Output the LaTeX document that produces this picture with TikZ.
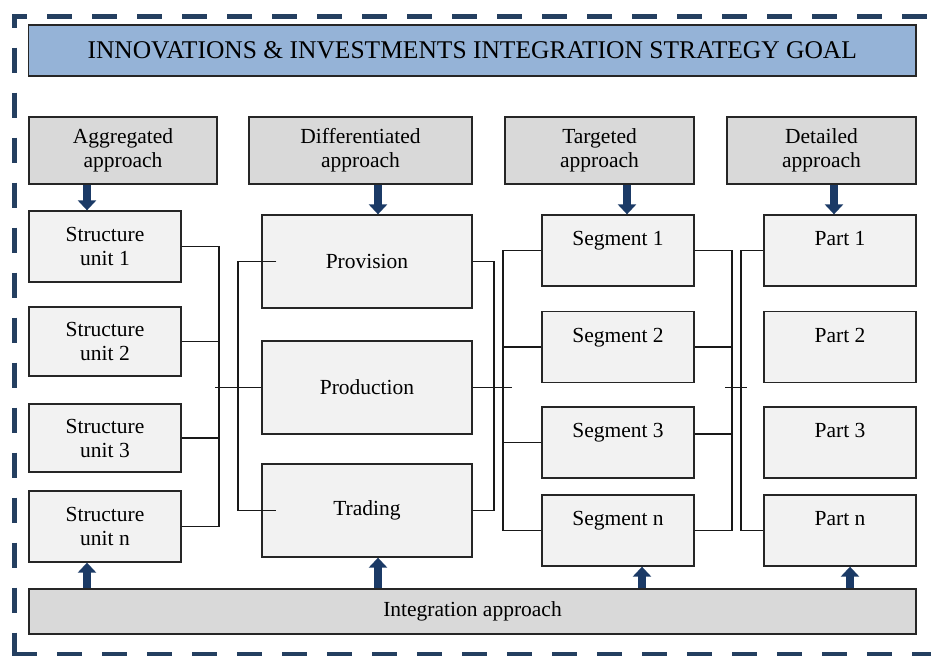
\documentclass[tikz,border=0pt]{standalone}
\usepackage{fontspec}
\setmainfont{Liberation Serif}
\usetikzlibrary{positioning,arrows.meta,calc}
\definecolor{framenavy}{HTML}{243F60}
\definecolor{goalblue}{HTML}{95B3D7}
\definecolor{approachgray}{HTML}{D9D9D9}
\definecolor{unitgray}{HTML}{F2F2F2}
\definecolor{arrownavy}{HTML}{1B3A66}

\begin{document}
\begin{tikzpicture}[x=1pt,y=-1pt,
	every node/.style={font=\fontsize{21.5}{24}\selectfont, inner sep=0pt, align=center},
	plainbox/.style={shape=rectangle, draw=black!85, line width=1.3pt, fill=unitgray},
	approachbox/.style={plainbox, fill=approachgray, minimum width=189pt, minimum height=67pt},
	unitbox/.style={plainbox, minimum width=152pt, minimum height=71pt},
	stagebox/.style={plainbox, minimum width=210pt, minimum height=93pt},
	link/.style={line width=1.3pt, black!90},
	blockarrow/.style={-{Triangle[width=18pt,length=10pt]}, line width=8.5pt, arrownavy},
	framedash/.style={line width=4.5pt, framenavy, dash pattern=on 25pt off 20pt}]
	\useasboundingbox (0,0) rectangle (931,657);

	\coordinate (frameNW) at (14.5,16.5);
	\coordinate (frameSW) at (14.5,654);
	\coordinate (frameNE) at (931,16.5);
	\coordinate (frameSE) at (931,654);
	\draw [framedash, dash phase=14pt] (frameNW) -- (frameSW);
	\draw [framedash, dash phase=10pt] ([xshift=-2.25pt]frameNW) -- (frameNE);
	\draw [framedash] ([xshift=-2.25pt]frameSW) -- (frameSE);

	\node (goal) at (472.25,50.5) [plainbox, fill=goalblue, minimum width=887.5pt, minimum height=51pt, font=\fontsize{25.5}{28}\selectfont] {INNOVATIONS \& INVESTMENTS INTEGRATION STRATEGY GOAL};

	\node (aggregated) at (123,150.5) [approachbox, minimum width=188pt] {Aggregated\\approach};
	\node (differentiated) at (360.5,150.5) [approachbox, minimum width=223pt] {Differentiated\\approach};
	\node (targeted) at (599.5,150.5) [approachbox] {Targeted\\approach};
	\node (detailed) at (821.5,150.5) [approachbox] {Detailed\\approach};

	\node (unit1) at (105,246.5) [unitbox] {Structure\\unit 1};
	\node (unit2) at (105,341.5) [unitbox, minimum height=69pt] {Structure\\unit 2};
	\node (unit3) at (105,438) [unitbox, minimum height=68pt] {Structure\\unit 3};
	\node (unitn) at (105,526.5) [unitbox] {Structure\\unit n};

	\node (provision) at (367,261.5) [stagebox] {Provision};
	\node (production) at (367,387.5) [stagebox] {Production};
	\node (trading) at (367,510.5) [stagebox] {Trading};

	\node (segment1) at (618,250.5) [unitbox] {Segment 1\\\phantom{1}};
	\node (segment2) at (618,347) [unitbox] {Segment 2\\\phantom{2}};
	\node (segment3) at (618,442.5) [unitbox] {Segment 3\\\phantom{3}};
	\node (segmentn) at (618,530.5) [unitbox] {Segment n\\\phantom{n}};

	\node (part1) at (840,250.5) [unitbox] {Part 1\\\phantom{1}};
	\node (part2) at (840,347) [unitbox] {Part 2\\\phantom{2}};
	\node (part3) at (840,442.5) [unitbox] {Part 3\\\phantom{3}};
	\node (partn) at (840,530.5) [unitbox] {Part n\\\phantom{n}};

	\node (integration) at (472.5,611.5) [plainbox, fill=approachgray, minimum width=887pt, minimum height=45pt] {Integration approach};

	\coordinate (busA) at (219,0);
	\coordinate (busB) at (238,0);
	\coordinate (busC) at (494,0);
	\coordinate (busD) at (503,0);
	\coordinate (busE) at (732,0);
	\coordinate (busF) at (741,0);
	\coordinate (crossL) at (215,0);
	\coordinate (crossM) at (512,0);
	\coordinate (crossR) at (725,387.5);
	\coordinate (crossS) at (747,387.5);

	\draw [link] (unit1.east) -| (busA |- unitn.east) -- (unitn.east);
	\draw [link] (unit2.east) -- (unit2.east -| busA);
	\draw [link] (unit3.east) -- (unit3.east -| busA);
	\draw [link] (production.west -| crossL) -- (production.west);

	\draw [link] ([xshift=15pt]provision.west) -- (provision.west -| busB) -- (trading.west -| busB) -- ([xshift=15pt]trading.west);
	\draw [link] (provision.east) -- (provision.east -| busC) -- (trading.east -| busC) -- (trading.east);
	\draw [link] (production.east) -- (production.east -| crossM);

	\draw [link] (segment1.west) -- (segment1.west -| busD) -- (segmentn.west -| busD) -- (segmentn.west);
	\draw [link] (segment2.west) -- (segment2.west -| busD);
	\draw [link] (segment3.west) -- (segment3.west -| busD);
	\draw [link] (segment1.east) -- (segment1.east -| busE) -- (segmentn.east -| busE) -- (segmentn.east);
	\draw [link] (segment2.east) -- (segment2.east -| busE);
	\draw [link] ([yshift=8.5pt]segment3.east) -- ([yshift=8.5pt]segment3.east -| busE);
	\draw [link] (crossR) -- (crossS);

	\draw [link] (part1.west) -- (part1.west -| busF) -- (partn.west -| busF) -- (partn.west);

	\draw [blockarrow] ([xshift=-36pt]aggregated.south) -- ([xshift=-36pt]aggregated.south |- unit1.north);
	\draw [blockarrow] ([xshift=17.5pt]differentiated.south) -- ([xshift=17.5pt]differentiated.south |- provision.north);
	\draw [blockarrow] ([xshift=27.5pt]targeted.south) -- ([xshift=27.5pt]targeted.south |- segment1.north);
	\draw [blockarrow] ([xshift=12.5pt]detailed.south) -- ([xshift=12.5pt]detailed.south |- part1.north);

	\draw [blockarrow] ([xshift=-18pt]unitn.south |- integration.north) -- ([xshift=-18pt]unitn.south);
	\draw [blockarrow] ([xshift=11pt]trading.south |- integration.north) -- ([xshift=11pt]trading.south);
	\draw [blockarrow] ([xshift=24pt]segmentn.south |- integration.north) -- ([xshift=24pt]segmentn.south);
	\draw [blockarrow] ([xshift=10pt]partn.south |- integration.north) -- ([xshift=10pt]partn.south);
\end{tikzpicture}
\end{document}
